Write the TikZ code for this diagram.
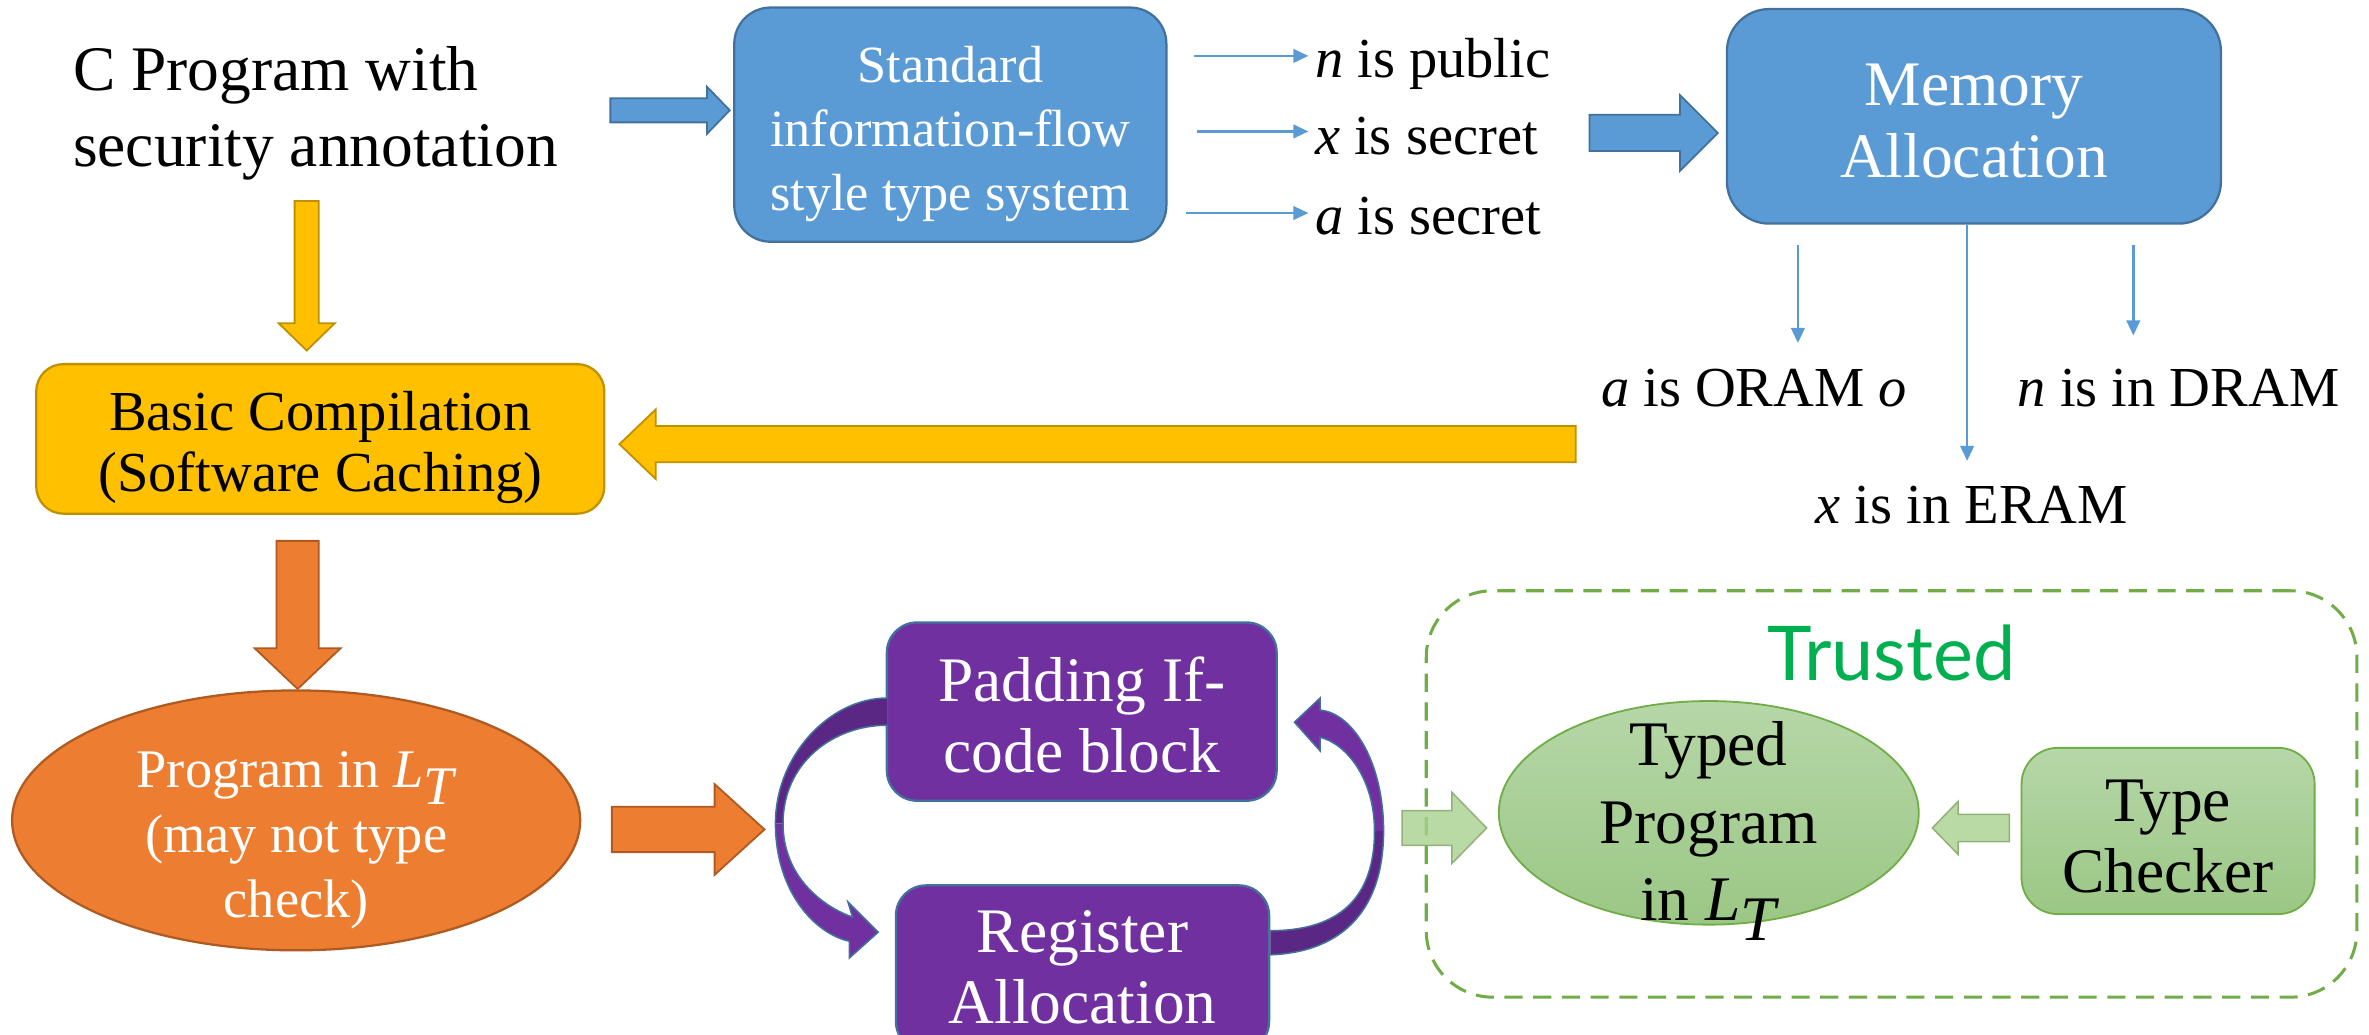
\documentclass[tikz,border=0pt]{standalone}
\usepackage{fontspec}
\setmainfont{Liberation Serif}
\newfontfamily\trustfont{Lato}
\usetikzlibrary{calc,arrows.meta,shapes.geometric}

\definecolor{blueF}{HTML}{5B9BD5}
\definecolor{blueB}{HTML}{41719C}
\definecolor{yelF}{HTML}{FFC000}
\definecolor{yelB}{HTML}{BF9000}
\definecolor{orgF}{HTML}{ED7D31}
\definecolor{orgB}{HTML}{AE5A21}
\definecolor{purF}{HTML}{7030A0}
\definecolor{purD}{HTML}{5A2784}
\definecolor{purB}{HTML}{41719C}
\definecolor{grnTop}{HTML}{B6D7A8}
\definecolor{grnBot}{HTML}{9BC785}
\definecolor{grnB}{HTML}{70AD47}
\definecolor{grnArr}{HTML}{A9D18E}
\definecolor{trustG}{HTML}{00B050}

\newcommand\fs[2]{\fontsize{#1pt}{#2pt}\selectfont}
\newcommand\mv[1]{\textit{#1}}
\newcommand\LT{\textit{L}$_{\textit{T}}$}

% block arrow: style, tail, tip, half shaft width, half head width, head length
\newcommand\blockarrow[6]{%
  \coordinate (bbase) at ($(#3)!#6!(#2)$);
  \path[#1] ($(#2)!#4!90:(#3)$) -- ($(bbase)!#4!90:(#3)$) -- ($(bbase)!#5!90:(#3)$)
    -- (#3) -- ($(bbase)!#5!-90:(#3)$) -- ($(bbase)!#4!-90:(#3)$)
    -- ($(#2)!#4!-90:(#3)$) -- cycle;
}

\begin{document}
\begin{tikzpicture}[x=0.5pt,y=-0.5pt,
  bluebox/.style={rectangle, fill=blueF, draw=blueB, line width=0.75pt, inner sep=0pt},
  yelbox/.style={rectangle, fill=yelF, draw=yelB, line width=0.75pt, inner sep=0pt, rounded corners=9pt},
  purbox/.style={rectangle, fill=purF, draw=purB, line width=0.75pt, inner sep=0pt, rounded corners=10pt},
  grnbox/.style={rectangle, top color=grnTop, bottom color=grnBot, draw=grnB, line width=0.6pt, inner sep=0pt, rounded corners=12pt},
  boxtext/.style={align=center, inner sep=0pt},
  lbl/.style={inner sep=2pt, font=\fs{18.7}{22}},
  smallarrow/.style={draw=blueF, line width=0.8pt, -{Triangle[length=5pt,width=4.5pt]}},
  bluearr/.style={fill=blueF, draw=blueB, line width=0.6pt},
  yelarr/.style={fill=yelF, draw=yelB, line width=0.6pt},
  orgarr/.style={fill=orgF, draw=orgB, line width=0.6pt},
  grnarr/.style={fill=grnArr, fill opacity=0.8, draw=grnArr!85!black, line width=0.5pt},
  curvedge/.style={draw=purB, line width=0.5pt}
]
\useasboundingbox (0,0) rectangle (1568,685);
\clip (0,0) rectangle (1568,685);

% ---- source program and type system ----
\node[anchor=west, align=left, inner sep=0pt, font=\fs{21}{25}] (cprog) at (48,75) {C Program with\\security annotation};
\node[bluebox, minimum width=143pt, minimum height=77.5pt, rounded corners=12pt] (tsys) at (629,82.5) {};
\node[boxtext, text=white, font=\fs{17.3}{21.2}] (tsystxt) at (629,88.5) {Standard\\information-flow\\style type system};

\node[lbl, anchor=west] (npub) at (866,42) {\mv{n} is public};
\node[lbl, anchor=west] (xsec) at (866,90) {\mv{x} is secret};
\node[lbl, anchor=west] (asec) at (866,143) {\mv{a} is secret};

\coordinate (n0) at (790,37);
\coordinate (x0) at (792,87);
\coordinate (a0) at (785,141);
\draw[smallarrow] (n0) -- (n0 -| npub.west);
\draw[smallarrow] (x0) -- (x0 -| xsec.west);
\draw[smallarrow] (a0) -- (a0 -| asec.west);

% ---- memory allocation ----
\node[bluebox, minimum width=163.5pt, minimum height=71pt, rounded corners=14pt] (mem) at (1306.5,77) {};
\node[boxtext, text=white, font=\fs{21}{24}] (memtxt) at (1306.5,80) {Memory\\Allocation};
\node[lbl] (aoram) at (1161,257) {\mv{a} is ORAM \mv{o}};
\node[lbl] (ndram) at (1442,257) {\mv{n} is in DRAM};
\node[lbl] (xeram) at (1305,334) {\mv{x} is in ERAM};

\coordinate (ma0) at (1190,162);
\coordinate (mn0) at (1412,162);
\coordinate (mx0) at (mem.south -| 1302,0);
\draw[smallarrow, shorten >=6.5pt] (ma0) -- (ma0 |- aoram.north);
\draw[smallarrow, shorten >=9pt] (mn0) -- (mn0 |- ndram.north);
\draw[smallarrow, shorten >=6pt] (mx0) -- (mx0 |- xeram.north);

% ---- basic compilation ----
\node[yelbox, minimum width=188pt, minimum height=49.5pt] (basic) at (212,290.5) {};
\node[boxtext, font=\fs{18.7}{20.2}] (basictxt) at (212,296) {Basic Compilation\\(Software Caching)};

% ---- program in L_T ----
\node[ellipse, fill=orgF, draw=orgB, line width=0.75pt, minimum width=188pt, minimum height=86pt, inner sep=0pt] (prog) at (196,543) {};
\node[boxtext, text=white, font=\fs{18}{21.5}] (progtxt) at (196,556) {Program in \LT\\(may not type\\check)};

% ---- padding / register allocation loop ----
\node[purbox, minimum width=129pt, minimum height=59pt] (pad) at (716,471) {};
\node[boxtext, text=white, font=\fs{21}{23.5}] (padtxt) at (716,473) {Padding If-\\code block};
\node[purbox, minimum width=123.5pt, minimum height=55pt] (reg) at (716.5,641) {};
\node[boxtext, text=white, font=\fs{21}{23.5}] (regtxt) at (716.5,640) {Register\\Allocation};

\begin{scope}[shift={(pad.west)}]
  \fill[purF] (-73,74) .. controls (-73,119) and (-47,147) .. (-24,152) -- (-24,163) -- (-5,146)
     -- (-25,126) -- (-22,136) .. controls (-42,129) and (-68,109) .. (-68,74) -- cycle;
  \fill[purD] (1,-9) .. controls (-37,-9) and (-73,29) .. (-73,74) -- (-68,74)
     .. controls (-68,34) and (-35,9) .. (1,9) -- cycle;
  \path[curvedge] (1,-9) .. controls (-37,-9) and (-73,29) .. (-73,74)
     .. controls (-73,119) and (-47,147) .. (-24,152) -- (-24,163) -- (-5,146)
     -- (-25,126) -- (-22,136) .. controls (-42,129) and (-68,109) .. (-68,74)
     .. controls (-68,34) and (-35,9) .. (1,9);
\end{scope}

\begin{scope}[shift={(reg.east)}]
  \fill[purF] (75,-91) .. controls (75,-136) and (55,-169) .. (33,-171) -- (33,-179) -- (16,-163)
     -- (33,-144) -- (33,-153) .. controls (50,-149) and (69,-126) .. (69,-91) -- cycle;
  \fill[purD] (0,-9) .. controls (50,-11) and (75,-41) .. (75,-91) -- (69,-91)
     .. controls (69,-46) and (45,-25) .. (0,-25) -- cycle;
  \path[curvedge] (0,-9) .. controls (50,-11) and (75,-41) .. (75,-91)
     .. controls (75,-136) and (55,-169) .. (33,-171) -- (33,-179) -- (16,-163)
     -- (33,-144) -- (33,-153) .. controls (50,-149) and (69,-126) .. (69,-91)
     .. controls (69,-46) and (45,-25) .. (0,-25);
\end{scope}

% ---- trusted part ----
\node[rectangle, draw=grnB, line width=1pt, dash pattern=on 6pt off 3.5pt, rounded corners=22pt, minimum width=308pt, minimum height=134.5pt] (trust) at (1252,525.5) {};
\node[text=trustG, font=\trustfont\fontsize{25pt}{28pt}\selectfont] (trustlbl) at (1252,432) {Trusted};

\node[ellipse, top color=grnTop, bottom color=grnBot, draw=grnB, line width=0.6pt, minimum width=139pt, minimum height=74pt, inner sep=0pt] (typed) at (1131,538) {};
\node[boxtext, font=\fs{21}{25.5}] (typedtxt) at (1131,550) {Typed\\Program\\in \LT};
\node[grnbox, minimum width=97pt, minimum height=55pt] (tchk) at (1435,550) {};
\node[boxtext, font=\fs{21}{23.5}] (tchktxt) at (1435,554) {Type\\Checker};

% ---- block arrows ----
\coordinate (b1s) at (404,73);   \coordinate (b1e) at (483,73);
\coordinate (b2s) at (1052,88);  \coordinate (b2e) at (1137,88);
\coordinate (y1s) at (203,133);  \coordinate (y1e) at (203,232);
\coordinate (y2s) at (1043,294); \coordinate (y2e) at (410,294);
\coordinate (o1s) at (197,358);  \coordinate (o1e) at (197,456);
\coordinate (o2s) at (405,549);  \coordinate (o2e) at (506,549);
\coordinate (g1s) at (928,548);  \coordinate (g1e) at (984,548);
\coordinate (g2s) at (1330,548); \coordinate (g2e) at (1279,548);

\blockarrow{bluearr}{b1s}{b1e}{4pt}{7.75pt}{7.5pt}
\blockarrow{bluearr}{b2s}{b2e}{6pt}{12.5pt}{12.5pt}
\blockarrow{yelarr}{y1s}{y1e}{4pt}{9.25pt}{9pt}
\blockarrow{yelarr}{y2s}{y2e}{6pt}{11.5pt}{12pt}
\blockarrow{orgarr}{o1s}{o1e}{7pt}{14.25pt}{13.5pt}
\blockarrow{orgarr}{o2s}{o2e}{7.5pt}{15pt}{16.5pt}
\blockarrow{grnarr}{g1s}{g1e}{5.75pt}{11.75pt}{11.5pt}
\blockarrow{grnarr}{g2s}{g2e}{4.5pt}{8.75pt}{8.5pt}
\end{tikzpicture}
\end{document}
